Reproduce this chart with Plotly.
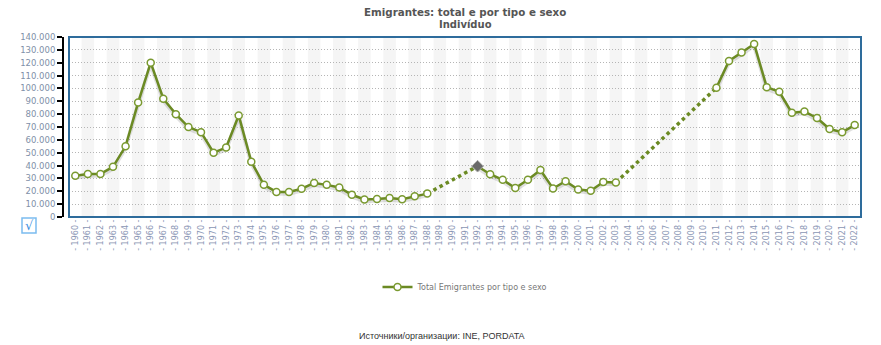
import plotly.graph_objects as go

years = [str(y) for y in range(1960, 2023)]
values = [32000, 33500, 33500, 39000, 55000, 89000, 120000, 92000, 80000, 70000,
          66000, 50000, 54000, 79000, 43000, 25000, 19500, 19500, 22000, 26500,
          25000, 23000, 17300, 13700, 14000, 14800, 13800, 16100, 18200, None,
          None, None, 39500, 33300, 28900, 22500, 28900, 36500, 22200, 27800,
          21300, 20400, 27300, 26800, None, None, None, None, None, None,
          None, 100500, 121400, 128000, 134500, 101000, 97400, 81000, 82000, 77000,
          68400, 66000, 71500]
highlight_year = "1992"
series_name = "Total Emigrantes por tipo e sexo"
title = "Emigrantes: total e por tipo e sexo"
subtitle = "Indivíduo"
source = "Источники/организации: INE, PORDATA"
ytickvals = list(range(0, 140001, 10000))
yticktext = [f"{v:,}".replace(",", ".") for v in ytickvals]
xticktext = [f"- {y} -" for y in years]

GREEN = "#6b8a23"
W, H = 881, 345
ML, MR, MT, MB = 63, 20, 37, 128
PW = W - ML - MR
PH = H - MT - MB
xdom0 = 6 / PW

fig = go.Figure()

# alternating bands
shapes = []
for i in range(len(years)):
    if i % 2 == 1:
        shapes.append(dict(type="rect", xref="x", yref="y domain", x0=i - 0.5, x1=i + 0.5,
                           y0=0, y1=1, fillcolor="#f5f5f5", line_width=0, layer="below"))

# gap bridges (dotted)
bx, by = [], []
idx = [i for i, v in enumerate(values) if v is not None]
for a, b in zip(idx[:-1], idx[1:]):
    if b - a > 1:
        bx += [years[a], years[b], None]
        by += [values[a], values[b], None]

shadow = [v - 1400 if v is not None else None for v in values]
fig.add_trace(go.Scatter(x=years, y=shadow, mode="lines", line=dict(color="rgba(0,0,0,0.12)", width=4),
                         hoverinfo="skip", showlegend=False))
fig.add_trace(go.Scatter(x=bx, y=by, mode="lines", line=dict(color=GREEN, width=3.5, dash="dot"),
                         hoverinfo="skip", showlegend=False))
fig.add_trace(go.Scatter(x=years, y=values, mode="lines+markers", name=series_name,
                         line=dict(color=GREEN, width=2.5),
                         marker=dict(symbol="circle", size=7, color="white",
                                     line=dict(color="#7a9a30", width=1.5))))
hi = years.index(highlight_year)
fig.add_trace(go.Scatter(x=[highlight_year], y=[values[hi]], mode="markers",
                         marker=dict(symbol="diamond", size=9, color="#6a6a6a",
                                     line=dict(color="#aaaaaa", width=1)),
                         showlegend=False, hoverinfo="skip"))

# plot frame
shapes.append(dict(type="rect", xref="x domain", yref="y domain", x0=0, x1=1, y0=0, y1=1,
                   line=dict(color="#2e6c9c", width=2), layer="above"))
# checkbox
cx0, cx1, cy0, cy1 = 22, 36, 218, 233
shapes.append(dict(type="rect", xref="paper", yref="paper",
                   x0=(cx0 - ML) / PW, x1=(cx1 - ML) / PW,
                   y0=(MT + PH - cy1) / PH, y1=(MT + PH - cy0) / PH,
                   line=dict(color="#7bbcf0", width=1.5), fillcolor="white"))

fig.update_layout(
    width=W, height=H, margin=dict(l=ML, r=MR, t=MT, b=MB),
    paper_bgcolor="white", plot_bgcolor="white",
    font=dict(family="DejaVu Sans", size=8, color="#666"),
    shapes=shapes,
    showlegend=True,
    legend=dict(orientation="h", x=(465 - ML) / PW, xanchor="center",
                y=-(287 - MT - PH) / PH, yanchor="middle", itemwidth=30,
                font=dict(family="DejaVu Sans", size=8, color="#777")),
    xaxis=dict(domain=[xdom0, 1], type="category", categoryorder="array", categoryarray=years,
               tickvals=years, ticktext=xticktext, tickangle=-90,
               tickfont=dict(family="DejaVu Sans", size=8, color="#8a96b4"),
               range=[-0.5, len(years) - 0.5], showgrid=False, zeroline=False,
               showline=False, ticks=""),
    yaxis=dict(anchor="free", position=0, range=[0, 140000], tickvals=ytickvals, ticktext=yticktext,
               tickfont=dict(family="DejaVu Sans", size=8.5, color="#8090a8"),
               showline=True, linecolor="black", linewidth=2, ticks="outside", ticklen=5,
               tickwidth=2, tickcolor="black",
               showgrid=True, gridcolor="#b5b5b5", griddash="1px,2px", gridwidth=1, zeroline=False),
    annotations=[
        dict(text=f"<b>{title}</b>", xref="paper", yref="paper", x=(465 - ML) / PW, y=(MT + PH - 12) / PH,
             xanchor="center", yanchor="middle", showarrow=False,
             font=dict(family="DejaVu Sans", size=10.3, color="#555")),
        dict(text=f"<b>{subtitle}</b>", xref="paper", yref="paper", x=(465 - ML) / PW, y=(MT + PH - 24) / PH,
             xanchor="center", yanchor="middle", showarrow=False,
             font=dict(family="DejaVu Sans", size=10, color="#555")),
        dict(text=source, xref="paper", yref="paper", x=(442 - ML) / PW, y=(MT + PH - 336) / PH,
             xanchor="center", yanchor="middle", showarrow=False,
             font=dict(family="Liberation Sans", size=9, color="#333")),
        dict(text="√", xref="paper", yref="paper", x=((cx0 + cx1) / 2 - ML) / PW,
             y=(MT + PH - (cy0 + cy1) / 2) / PH, xanchor="center", yanchor="middle",
             showarrow=False, font=dict(family="DejaVu Sans", size=13, color="#3d8fe0")),
    ],
)

fig.write_html("out.html")
